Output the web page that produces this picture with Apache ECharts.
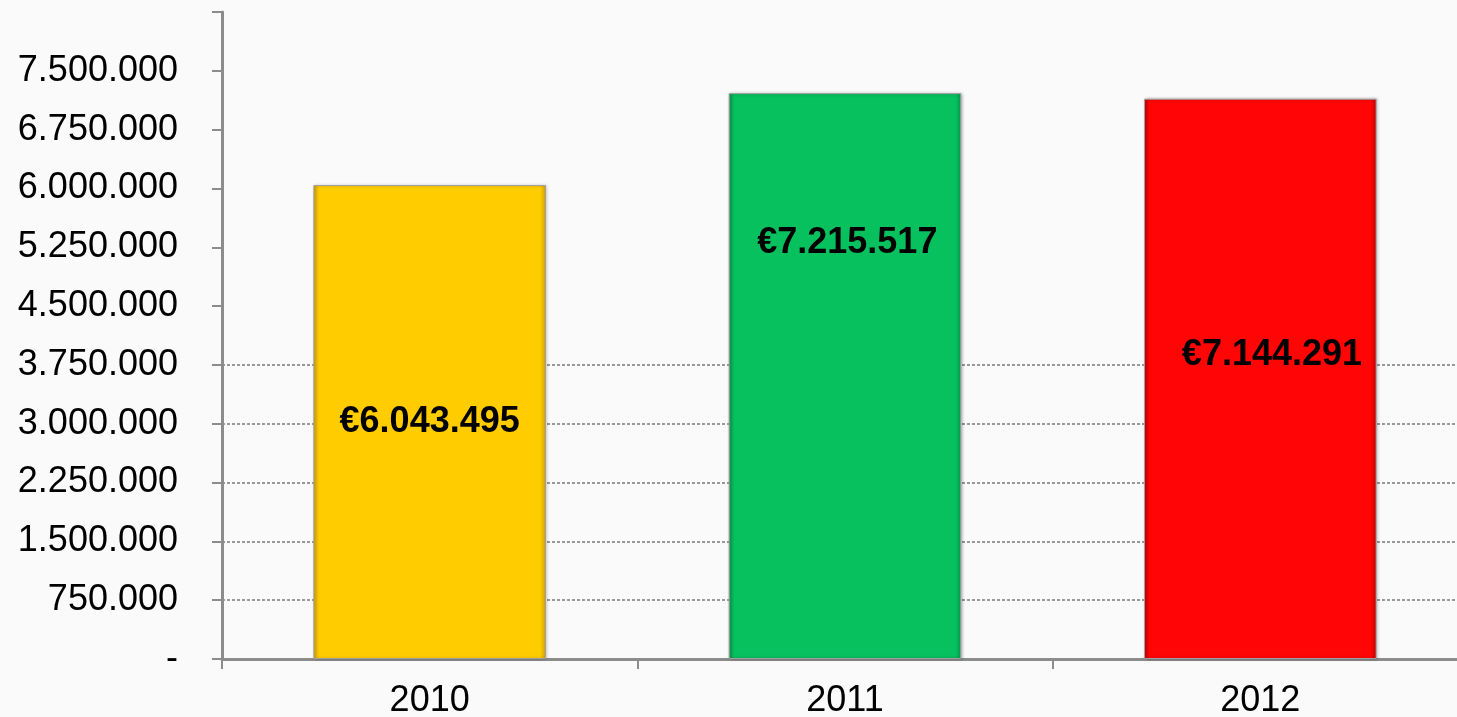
<!DOCTYPE html>
<html>
<head>
<meta charset="utf-8">
<script src="https://cdn.jsdelivr.net/npm/echarts@6/dist/echarts.min.js"></script>
<style>
  html, body { margin: 0; padding: 0; background: #fafafa; }
  #chart { width: 1457px; height: 717px; }
</style>
</head>
<body>
<div id="chart"></div>
<script>
// dati
const years = ['2010', '2011', '2012']
const values = [6043495, 7215517, 7144291]
const barColors = ['#ffcc00', '#07c05e', '#ff0505']
const edgeColors = ['#d4a200', '#04994a', '#c80000']
// posizione delle etichette dentro la barra (come nell'originale)
const labelX = ['50%', '51%', '55%']
const labelY = ['50%', '26.5%', '45.7%']

function fmt(v) {
  if (v === 0) return '-'
  return String(v).replace(/\B(?=(\d{3})+(?!\d))/g, '.')
}

const chart = echarts.init(document.getElementById('chart'))

// linee griglia solo fino a 3.750.000
const gridColors = []
for (let i = 0; i <= 11; i++) gridColors.push(i <= 5 ? '#999999' : 'rgba(0,0,0,0)')

const option = {
  backgroundColor: '#fafafa',
  animation: false,
  grid: { left: 222, width: 1246, top: 12, bottom: 58, outerBoundsMode: 'none', containLabel: false },
  xAxis: {
    type: 'category',
    data: years,
    axisLine: { lineStyle: { color: '#8c8c8c', width: 3 } },
    axisTick: { show: true, length: 10, lineStyle: { color: '#8c8c8c', width: 2 } },
    axisLabel: {
      color: '#000', fontSize: 36, fontFamily: 'Liberation Sans, Arial', margin: 24
    }
  },
  yAxis: {
    type: 'value',
    min: 0,
    max: 8250000,
    interval: 750000,
    axisLine: { show: true, lineStyle: { color: '#8c8c8c', width: 3 } },
    axisTick: { show: true, length: 10, lineStyle: { color: '#8c8c8c', width: 2 } },
    axisLabel: {
      color: '#000', fontSize: 36, fontFamily: 'Liberation Sans, Arial', margin: 44,
      formatter: function (v) { return v >= 8250000 ? '' : fmt(v) }
    },
    splitLine: {
      show: true,
      lineStyle: { color: gridColors, width: 2, type: [3, 2] }
    }
  },
  series: [{
    type: 'bar',
    barWidth: '56%',
    data: values.map(function (v, i) {
      return {
        value: v,
        itemStyle: {
          color: new echarts.graphic.LinearGradient(0, 0, 1, 0, [
            { offset: 0, color: edgeColors[i] },
            { offset: 0.025, color: barColors[i] },
            { offset: 0.975, color: barColors[i] },
            { offset: 1, color: edgeColors[i] }
          ]),
          borderColor: '#a0a0a0',
          borderWidth: 1,
          shadowColor: 'rgba(0,0,0,0.25)',
          shadowBlur: 3,
          shadowOffsetX: 1
        },
        label: {
          show: true,
          position: [labelX[i], labelY[i]],
          align: 'center',
          verticalAlign: 'middle',
          formatter: '€' + fmt(v),
          color: '#000',
          fontSize: 36,
          fontWeight: 'bold',
          fontFamily: 'Liberation Sans, Arial'
        }
      }
    })
  }]
}
chart.setOption(option)
</script>
</body>
</html>
